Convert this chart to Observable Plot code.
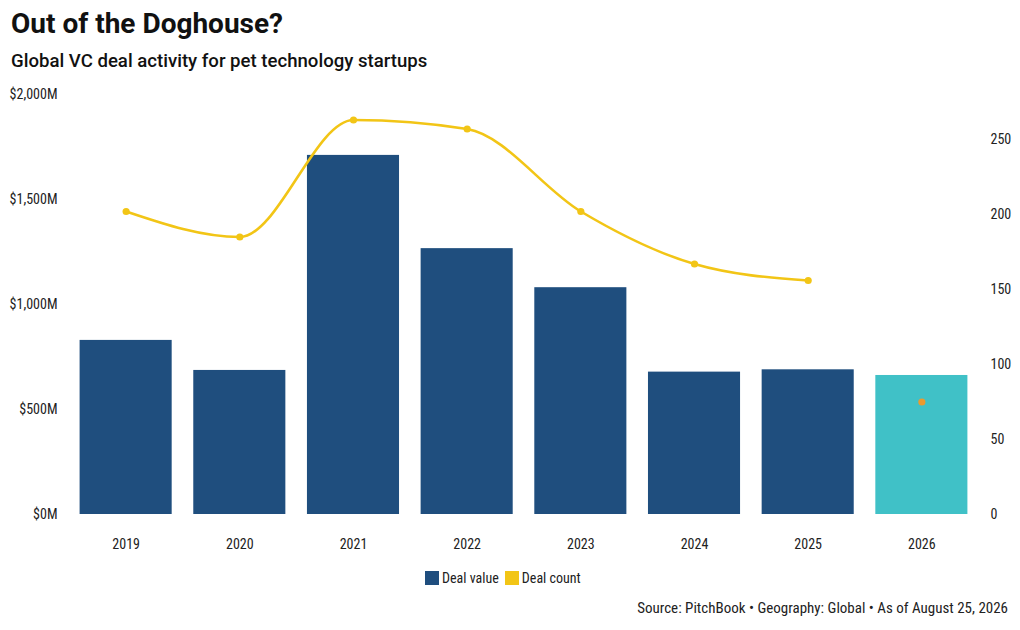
<!DOCTYPE html>
<html>
<head>
<meta charset="utf-8">
<script src="https://cdn.jsdelivr.net/npm/d3@7"></script>
<script src="https://cdn.jsdelivr.net/npm/@observablehq/plot@0.6"></script>
<style>
  html, body { margin: 0; padding: 0; background: #fff; }
  body { width: 1020px; height: 630px; position: relative; overflow: hidden; font-family: Roboto, sans-serif; color: #111; }
  .cond { font-family: "Roboto Condensed", "Liberation Sans Narrow", "DejaVu Sans Condensed", Roboto, sans-serif; }
  #title { position: absolute; left: 11px; top: 7px; font-size: 28px; font-weight: 700; color: #111; }
  #subtitle { position: absolute; left: 11px; top: 50px; font-size: 18.6px; font-weight: 500; color: #111; }
  #chart { position: absolute; left: 0; top: 80px; }
  #legend { position: absolute; left: 425px; top: 570px; font-size: 14px; display: flex; align-items: center; color: #222; }
  #legend .sw { width: 14px; height: 14px; display: inline-block; margin-right: 3px; }
  #legend .item { display: flex; align-items: center; margin-right: 6px; }
  #caption { position: absolute; right: 12px; top: 599px; font-size: 15px; color: #222; }
</style>
</head>
<body>
<div id="title">Out of the Doghouse?</div>
<div id="subtitle">Global VC deal activity for pet technology startups</div>
<div id="chart"></div>
<div id="legend" class="cond"></div>
<div id="caption" class="cond">Source: PitchBook • Geography: Global • As of August 25, 2026</div>
<script>
const years = ["2019", "2020", "2021", "2022", "2023", "2024", "2025", "2026"];
const dealValue = [829, 686, 1710, 1266, 1080, 678, 689, 662];          // $M
const dealCount = [202, 185, 263, 257, 202, 167, 156, 75];               // deals
const partialYear = "2026";
const leftTicks = [0, 500, 1000, 1500, 2000];
const rightTicks = [0, 50, 100, 150, 200, 250];
const leftMax = 2000;
const rightMax = 280;

const colorValue = "#1F4E7E";
const colorPartial = "#40C1C7";
const colorCount = "#F2C516";
const colorPartialCount = "#EC9A2E";
const k = leftMax / rightMax;

const rows = years.map((y, i) => ({year: y, value: dealValue[i], count: dealCount[i], partial: y === partialYear}));
const lineRows = rows.filter(d => !d.partial);
const partialRows = rows.filter(d => d.partial);

const fontCond = '"Roboto Condensed", "Liberation Sans Narrow", "DejaVu Sans Condensed", Roboto, sans-serif';

const plot = Plot.plot({
  width: 1020,
  height: 480,
  marginTop: 14,
  marginBottom: 46,
  marginLeft: 58,
  marginRight: 31,
  style: {fontFamily: fontCond, fontSize: "14px", color: "#222", background: "#fff"},
  x: {domain: years, padding: 0.19, round: false, label: null},
  y: {domain: [0, leftMax], label: null},
  marks: [
    Plot.barY(rows, {x: "year", y: "value", fill: d => d.partial ? colorPartial : colorValue}),
    Plot.line(lineRows, {x: "year", y: d => d.count * k, stroke: colorCount, strokeWidth: 2.6, curve: "monotone-x"}),
    Plot.dot(lineRows, {x: "year", y: d => d.count * k, r: 3.6, fill: colorCount}),
    Plot.dot(partialRows, {x: "year", y: d => d.count * k, r: 3.6, fill: colorPartialCount}),
    Plot.axisX({tickSize: 0, tickPadding: 25, fontSize: 14}),
    Plot.axisY({ticks: leftTicks, tickSize: 0, tickPadding: 1, tickFormat: d => "$" + d3.format(",")(d) + "M", label: null}),
    Plot.axisY(rightTicks.map(v => v * k), {anchor: "right", tickSize: 0, tickPadding: 1, tickFormat: d => d3.format(",")(Math.round(d / k)), label: null})
  ]
});
document.getElementById("chart").appendChild(plot);

const legendItems = [["Deal value", colorValue], ["Deal count", colorCount]];
const legend = document.getElementById("legend");
for (const [name, c] of legendItems) {
  const it = document.createElement("span");
  it.className = "item";
  const sw = document.createElement("span");
  sw.className = "sw";
  sw.style.background = c;
  it.appendChild(sw);
  it.appendChild(document.createTextNode(name));
  legend.appendChild(it);
}
</script>
</body>
</html>
